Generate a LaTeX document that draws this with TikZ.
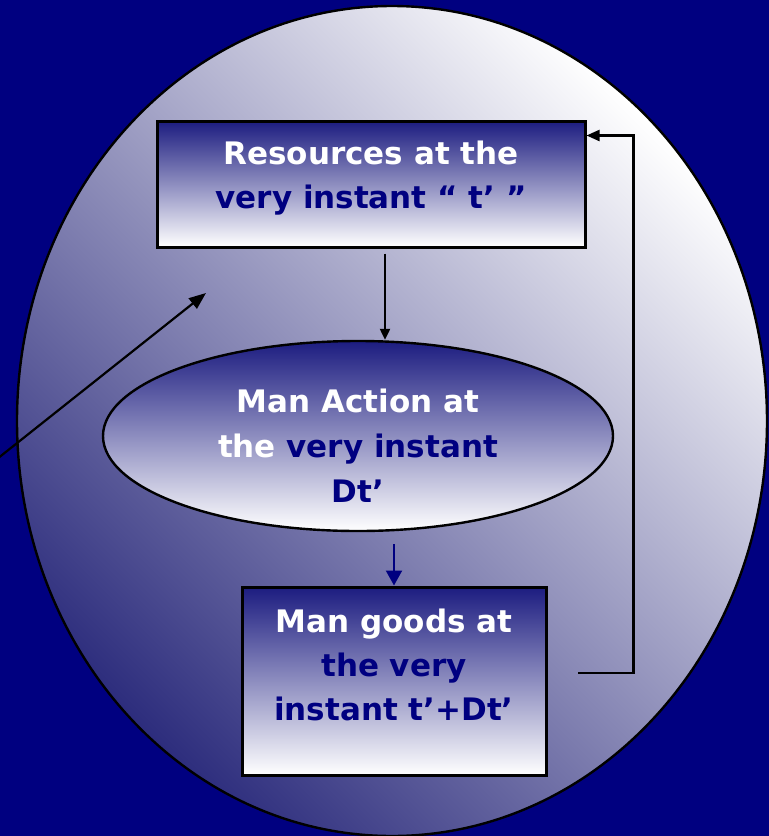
\documentclass[tikz,border=0pt]{standalone}
\usepackage{fontspec}
\setmainfont{DejaVu Sans}
\usetikzlibrary{arrows.meta,positioning,shapes.geometric}

\definecolor{deepnavy}{RGB}{0,0,128}
\definecolor{panetop}{RGB}{28,28,128}
\definecolor{globelow}{RGB}{45,45,125}
\definecolor{globemid}{RGB}{200,200,214}

\newcommand{\lite}[1]{\textcolor{white}{#1}}

\tikzset{
  stagebox/.style={draw=black, line width=3pt, top color=panetop, bottom color=white},
  stagetext/.style={align=center, text=deepnavy, font=\bfseries\fontsize{31}{44}\selectfont},
  flow/.style={line width=2.2pt, -{Triangle[length=13pt,width=11pt]}},
}

\begin{document}
\begin{tikzpicture}[x=1pt,y=-1pt]
% backdrop
\fill[deepnavy] (0,0) rectangle (769,836);
\useasboundingbox (0,0) rectangle (769,836);
\shade[top color=white, middle color=globemid, bottom color=globelow, shading angle=-45]
  (392,421) ellipse [x radius=375pt, y radius=415pt];
\draw[line width=2.4pt] (392,421) ellipse [x radius=375pt, y radius=415pt];

% the three stages
\node[stagebox, rectangle, minimum width=428pt, minimum height=126pt] (res) at (371,184) {};
\node[stagetext] (restext) at ([yshift=6pt]res.center) {\lite{Resources at the}\\very instant “ t’ ”};

\node[stagebox, ellipse, line width=2.4pt, minimum width=510pt, minimum height=190pt] (act) at (358,436) {};
\node[stagetext, font=\bfseries\fontsize{31}{45}\selectfont] (acttext) at ([yshift=-10pt]act.center) {\lite{Man Action at}\\\lite{the} very instant\\Dt’};

\node[stagebox, rectangle, minimum width=304pt, minimum height=188pt] (goods) at (394,681) {};
\node[stagetext] (goodstext) at ([yshift=16pt]goods.center) {\lite{Man goods at}\\the very\\instant t’+Dt’};

% connectors
\coordinate (resout) at ([xshift=14pt,yshift=-5pt]res.south);
\draw[flow, -{Triangle[length=11pt,width=10pt]}] (resout) -- (resout |- act.north);
\draw[flow, deepnavy, -{Triangle[length=15pt,width=16pt]}] ([yshift=-12pt]act.south -| goods.north) -- (goods.north);
\coordinate (loopstart) at (578,673);
\coordinate (loopend) at ([yshift=-16pt]res.north east);
\draw[flow] (loopstart) -| ([xshift=47pt]loopend) -- (loopend);
\coordinate (outside) at (-3,459);
\coordinate (inside) at (206,293);
\draw[flow, -{Triangle[length=17pt,width=13pt]}] (outside) -- (inside);
\end{tikzpicture}
\end{document}
